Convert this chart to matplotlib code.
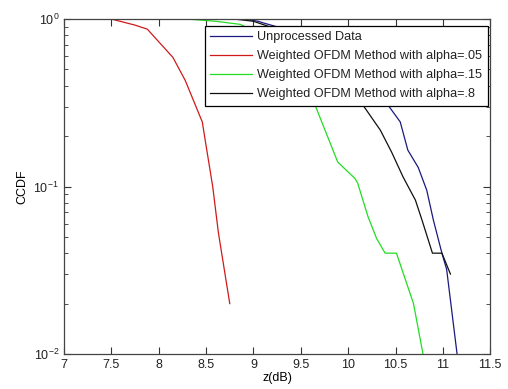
import numpy as np
import matplotlib
matplotlib.use('Agg')
import matplotlib.pyplot as plt
from matplotlib.ticker import LogLocator, NullFormatter

matplotlib.rcParams.update({'font.family': ['Liberation Sans', 'DejaVu Sans'], 'font.size': 9})

# CCDF curves (x in dB, y = CCDF)
unproc_x = [8.90, 9.05, 9.10, 9.40, 9.80, 10.20, 10.42, 10.55, 10.63, 10.74, 10.83, 10.90, 10.99, 11.04, 11.15]
unproc_y = [1.00, 0.97, 0.95, 0.85, 0.65, 0.42, 0.307, 0.243, 0.165, 0.13, 0.095, 0.063, 0.040, 0.032, 0.010]

a05_x = [7.50, 7.75, 7.88, 8.15, 8.28, 8.46, 8.49, 8.57, 8.63, 8.70, 8.75]
a05_y = [1.00, 0.92, 0.87, 0.59, 0.43, 0.243, 0.19, 0.10, 0.053, 0.030, 0.020]

a15_x = [8.30, 8.60, 8.86, 9.10, 9.30, 9.50, 9.65, 9.89, 10.07, 10.10, 10.21, 10.30, 10.39, 10.51, 10.69, 10.79]
a15_y = [1.00, 0.97, 0.93, 0.80, 0.60, 0.42, 0.307, 0.14, 0.112, 0.105, 0.066, 0.049, 0.040, 0.040, 0.020, 0.010]

a8_x = [8.80, 9.00, 9.30, 9.60, 9.90, 10.15, 10.34, 10.46, 10.58, 10.71, 10.78, 10.89, 10.99, 11.08]
a8_y = [1.00, 0.97, 0.85, 0.65, 0.45, 0.31, 0.217, 0.16, 0.114, 0.083, 0.063, 0.040, 0.040, 0.030]

labels = ['Unprocessed Data',
          'Weighted OFDM Method with alpha=.05',
          'Weighted OFDM Method with alpha=.15',
          'Weighted OFDM Method with alpha=.8']

fig = plt.figure(figsize=(5.08, 3.89), dpi=100)
ax = fig.add_axes([0.126, 0.090, 0.839, 0.861])

ax.semilogy(unproc_x, unproc_y, color='#1a1a80', lw=0.9, label=labels[0])
ax.semilogy(a05_x, a05_y, color='#d01a1a', lw=0.9, label=labels[1])
ax.semilogy(a15_x, a15_y, color='#22dd22', lw=0.9, label=labels[2])
ax.semilogy(a8_x, a8_y, color='#101010', lw=0.9, label=labels[3])

ax.set_xlim(7, 11.5)
ax.set_ylim(1e-2, 1)
ax.set_xticks(np.arange(7, 11.51, 0.5))
ax.set_xticklabels(['7', '7.5', '8', '8.5', '9', '9.5', '10', '10.5', '11', '11.5'])
ax.yaxis.set_minor_locator(LogLocator(base=10, subs=np.arange(2, 10)))
ax.yaxis.set_minor_formatter(NullFormatter())
ax.tick_params(which='both', direction='in', top=True, right=True, colors='#333333', labelcolor='#222222')
ax.tick_params(which='major', length=5)
ax.tick_params(which='minor', length=3)
for s in ax.spines.values():
    s.set_color('#444444')
    s.set_linewidth(0.9)

ax.set_xlabel('z(dB)', labelpad=1)
ax.set_ylabel('CCDF', labelpad=4)

leg = ax.legend(loc='upper right', bbox_to_anchor=(0.994, 0.980), fancybox=False, framealpha=1,
                edgecolor='black', fontsize=9.1, handlelength=3.3, handletextpad=0.4,
                borderpad=0.45, labelspacing=0.55, borderaxespad=0)
leg.get_frame().set_linewidth(0.9)
for t in leg.get_texts():
    t.set_color('#222222')

plt.savefig('out.png', dpi=100)
plt.close()
